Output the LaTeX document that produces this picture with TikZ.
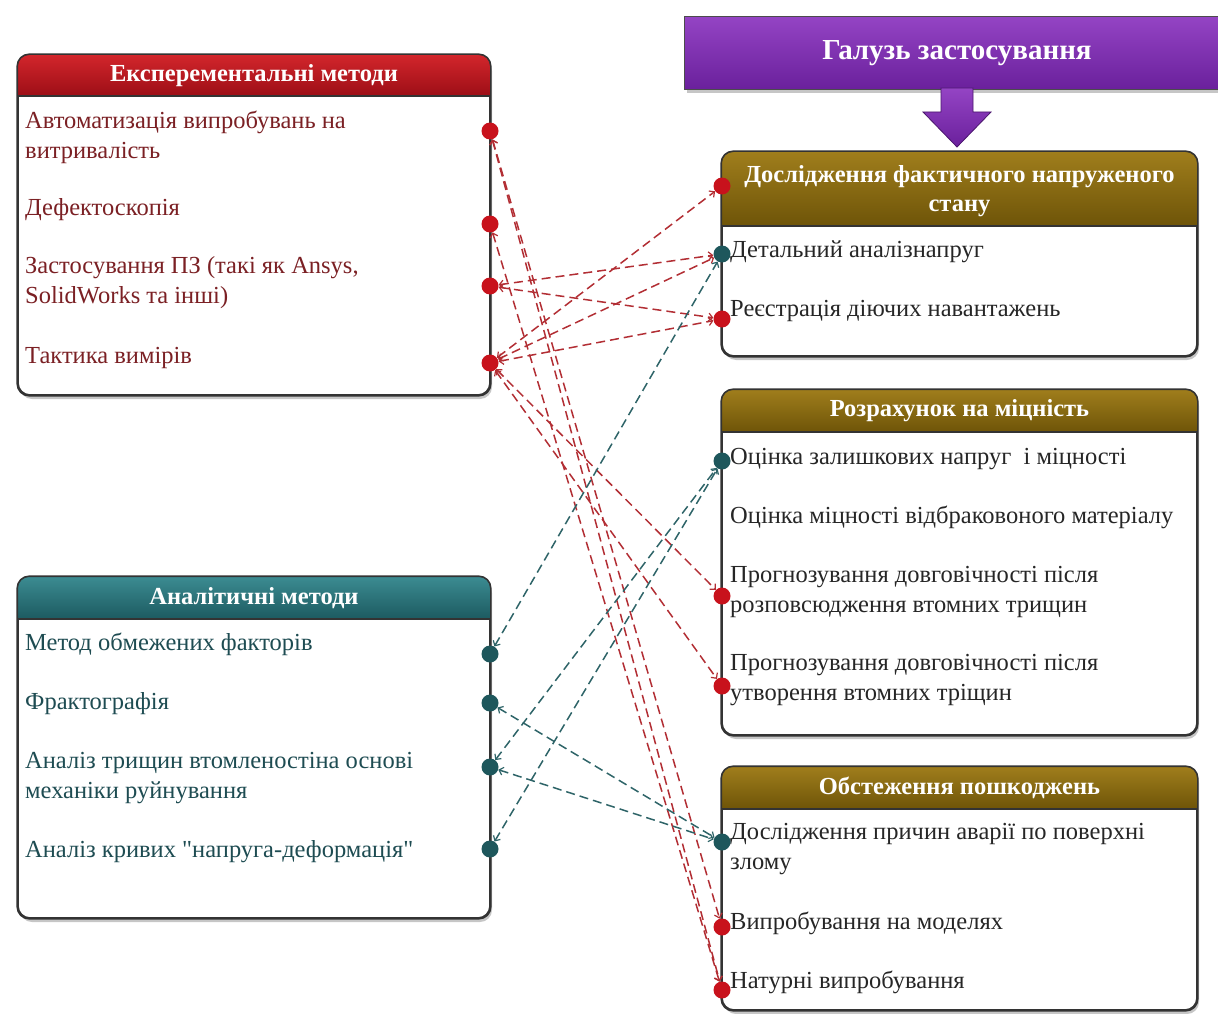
\documentclass[tikz,border=0pt]{standalone}
\usepackage{fontspec}
\setmainfont{Liberation Serif}[Ligatures=TeXOff]
\usetikzlibrary{shadows,arrows.meta,positioning}

\definecolor{exred}{HTML}{D3262C}
\definecolor{exreddark}{HTML}{9C0E16}
\definecolor{extext}{HTML}{7B2024}
\definecolor{anteal}{HTML}{3C8C92}
\definecolor{antealdark}{HTML}{1C5A60}
\definecolor{antext}{HTML}{1E4C52}
\definecolor{olivetop}{HTML}{A07E1C}
\definecolor{olivebot}{HTML}{6E5408}
\definecolor{violettop}{HTML}{9444C4}
\definecolor{violetbot}{HTML}{6A209C}
\definecolor{dotred}{HTML}{C8121C}
\definecolor{dotteal}{HTML}{1E575C}
\definecolor{linkred}{HTML}{B22E34}
\definecolor{linkteal}{HTML}{2E6468}

\newcommand\itemfont{\fontsize{24.5}{30}\selectfont}
\newcommand\headfont{\fontsize{24.5}{29}\selectfont\bfseries}

\tikzset{
  panel/.style={fill=white, rounded corners=12pt, line width=1.6pt, draw=black!80,
    drop shadow={opacity=0.45, shadow xshift=2pt, shadow yshift=-4pt}},
  headtext/.style={text=white, font=\headfont, align=center, inner sep=0pt},
  itemtext/.style={anchor=west, align=left, inner sep=0pt, font=\itemfont},
  exitem/.style={itemtext, text=extext},
  anitem/.style={itemtext, text=antext},
  rtitem/.style={itemtext, text=black!85},
  reddot/.style={circle, fill=dotred, inner sep=0pt, minimum size=17pt},
  tealdot/.style={circle, fill=dotteal, inner sep=0pt, minimum size=17pt},
  redlink/.style={draw=linkred, line width=1.5pt, dash pattern=on 9pt off 5pt,
    {Straight Barb[length=4pt,width=8pt,line width=1.2pt]}-{Straight Barb[length=4pt,width=8pt,line width=1.2pt]}},
  teallink/.style={redlink, draw=linkteal}
}

% header band of a panel: box, band height, top colour, bottom colour
\newcommand\paintheader[4]{%
  \begin{scope}
    \clip[rounded corners=12pt] (#1.north west) rectangle (#1.south east);
    \shade[top color=#3, bottom color=#4] (#1.north west) rectangle ([yshift=-#2]#1.north east);
  \end{scope}
  \draw[line width=1.6pt, draw=black!80] ([yshift=-#2]#1.north west) -- ([yshift=-#2]#1.north east);
  \draw[line width=1.6pt, draw=black!80, rounded corners=12pt] (#1.north west) rectangle (#1.south east);
}

\begin{document}
\begin{tikzpicture}[x=1pt, y=-1pt]
    \useasboundingbox (0,0) rectangle (1218,1014);

    % Banner and arrow
    \node[draw=black!70, line width=1.2pt, top color=violettop, bottom color=violetbot,
          minimum width=545, minimum height=73, inner sep=0pt,
          drop shadow={opacity=0.45, shadow xshift=2pt, shadow yshift=-4pt},
          font=\fontsize{29}{32}\selectfont\bfseries, text=white] (field) at (957,53) {Галузь застосування};
    \shade[top color=violettop, bottom color=violetbot, draw=violetbot!70!black, line width=0.8pt]
        (941,88) -- (973,88) -- (973,112) -- (991,112) -- (957,147) -- (923,112) -- (941,112) -- cycle;

    % Panels
    \node[panel, minimum width=472, minimum height=340] (expbox) at (254,225) {};
    \node[panel, minimum width=472, minimum height=341] (anbox) at (254,747.5) {};
    \node[panel, minimum width=475, minimum height=204] (factbox) at (959.5,254) {};
    \node[panel, minimum width=475, minimum height=345] (calcbox) at (959.5,562.5) {};
    \node[panel, minimum width=475, minimum height=243] (inspbox) at (959.5,888.5) {};

    \paintheader{expbox}{42pt}{exred}{exreddark}
    \paintheader{anbox}{43pt}{anteal}{antealdark}
    \paintheader{factbox}{75pt}{olivetop}{olivebot}
    \paintheader{calcbox}{43pt}{olivetop}{olivebot}
    \paintheader{inspbox}{43pt}{olivetop}{olivebot}

    % Headers
    \node[headtext] (exphead) at (254,76) {Експерементальні методи};
    \node[headtext] (anhead) at (254,598) {Аналітичні методи};
    \node[headtext] (facthead) at (959.5,191) {Дослідження фактичного напруженого\\стану};
    \node[headtext] (calchead) at (959.5,411) {Розрахунок на міцність};
    \node[headtext] (insphead) at (959.5,788) {Обстеження пошкоджень};

    % Experimental methods
    \node[exitem] (e1txt) at (25,137) {Автоматизація випробувань на\\витривалість};
    \node[exitem] (e2txt) at (25,210) {Дефектоскопія};
    \node[exitem] (e3txt) at (25,283) {Застосування ПЗ (такі як Ansys,\\SolidWorks та інші)};
    \node[exitem] (e4txt) at (25,358) {Тактика вимірів};

    % Analytical methods
    \node[anitem] (a1txt) at (25,644) {Метод обмежених факторів};
    \node[anitem] (a2txt) at (25,704) {Фрактографія};
    \node[anitem] (a3txt) at (25,778) {Аналіз трищин втомленостіна основі\\механіки руйнування};
    \node[anitem] (a4txt) at (25,852) {Аналіз кривих "напруга-деформація"};

    % Fields of use
    \node[rtitem] (d1txt) at (730,252) {Детальний аналізнапруг};
    \node[rtitem] (d2txt) at (730,311) {Реєстрація діючих навантажень};
    \node[rtitem] (r1txt) at (730,459) {Оцінка залишкових напруг~ і міцності};
    \node[rtitem] (r2txt) at (730,517) {Оцінка міцності відбраковоного матеріалу};
    \node[rtitem] (r3txt) at (730,592) {Прогнозування довговічності після\\розповсюдження втомних трищин};
    \node[rtitem] (r4txt) at (730,680) {Прогнозування довговічності після\\утворення втомних тріщин};
    \node[rtitem] (o1txt) at (730,849) {Дослідження причин аварії по поверхні\\злому};
    \node[rtitem] (o2txt) at (730,923) {Випробування на моделях};
    \node[rtitem] (o3txt) at (730,982) {Натурні випробування};

    % Red points
    \foreach \name/\y in {e1/131, e2/224, e3/286, e4/363} {
        \node[reddot] (\name) at (490,\y) {};
    }
    \foreach \name/\y in {d0/186, d2/319, r3/596, r4/686, o2/927, o3/990} {
        \node[reddot] (\name) at (722,\y) {};
    }

    % Teal points
    \foreach \name/\y in {a1/654, a2/703, a3/767, a4/849} {
        \node[tealdot] (\name) at (490,\y) {};
    }
    \foreach \name/\y in {d1/254, r1/461, o1/842} {
        \node[tealdot] (\name) at (722,\y) {};
    }

    % Links
    \foreach \from/\to in {e1/o2, e1/o3, e2/o3, e3/d1, e3/d2, e4/d0, e4/d1, e4/d2, e4/r3, e4/r4} {
        \draw[redlink] (\from) -- (\to);
    }
    \foreach \from/\to in {a1/d1, a2/o1, a3/o1, a3/r1, a4/r1} {
        \draw[teallink] (\from) -- (\to);
    }
\end{tikzpicture}
\end{document}
